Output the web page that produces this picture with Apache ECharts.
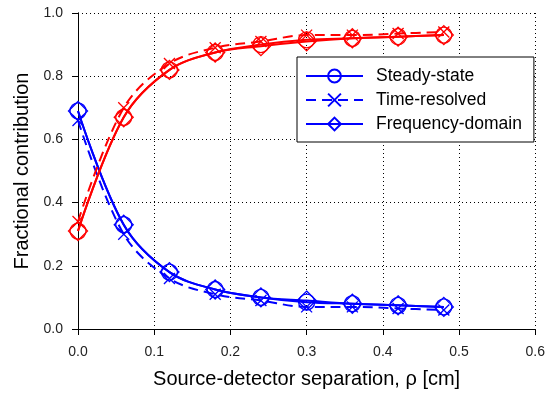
<!DOCTYPE html>
<html>
<head>
<meta charset="utf-8">
<script src="https://cdn.jsdelivr.net/npm/echarts@6/dist/echarts.min.js"></script>
<style>
html,body{margin:0;padding:0;background:#fff;}
#main{width:548px;height:394px;}
</style>
</head>
<body>
<div id="main"></div>
<script>
// 数据
var rho = [0, 0.06, 0.12, 0.18, 0.24, 0.30, 0.36, 0.42, 0.48];
var ssBlue = [0.69, 0.33, 0.18, 0.125, 0.10, 0.085, 0.08, 0.075, 0.07];
var trBlue = [0.66, 0.30, 0.16, 0.11, 0.09, 0.07, 0.07, 0.065, 0.06];
var fdBlue = [0.69, 0.33, 0.18, 0.125, 0.10, 0.09, 0.08, 0.075, 0.07];
var ssRed = [0.31, 0.67, 0.82, 0.875, 0.90, 0.915, 0.92, 0.925, 0.93];
var trRed = [0.34, 0.70, 0.84, 0.89, 0.91, 0.93, 0.93, 0.935, 0.94];
var fdRed = [0.31, 0.67, 0.82, 0.875, 0.895, 0.91, 0.92, 0.925, 0.93];

var crossPath = 'path://M0,0L10,10M10,0L0,10';

function pairs(ys){
    return rho.map(function(x, i){ return [x, ys[i]]; });
}

function mk(name, ys, color, symbol, size, dashed){
    return {
        name: name,
        type: 'line',
        data: pairs(ys),
        smooth: 0.35,
        color: color,
        symbol: symbol,
        symbolSize: size,
        showAllSymbol: true,
        lineStyle: {color: color, width: 2, type: dashed ? [10, 6] : 'solid'},
        itemStyle: {color: 'none', borderColor: color, borderWidth: 1.3},
        emphasis: {disabled: true},
        z: 3
    };
}

var myChart = echarts.init(document.getElementById('main'));
var axisLine = {show: true, lineStyle: {color: '#000', width: 1}};
var option = {
    animation: false,
    backgroundColor: '#fff',
    textStyle: {fontFamily: 'Liberation Sans, Arial, sans-serif'},
    grid: {left: 78, right: 11, top: 13, bottom: 61},
    legend: {
        data: ['Steady-state', 'Time-resolved', 'Frequency-domain'],
        orient: 'vertical',
        left: 297,
        top: 57,
        width: 238,
        padding: [10, 12, 9, 8],
        itemGap: 6,
        itemWidth: 57,
        itemHeight: 16,
        borderColor: '#000',
        borderWidth: 1,
        backgroundColor: '#fff',
        textStyle: {color: '#000', fontSize: 17.5, padding: [0, 0, 0, 8]},
        selectedMode: false
    },
    xAxis: [{
        type: 'value', min: 0, max: 0.6, interval: 0.1,
        name: 'Source-detector separation, ρ [cm]',
        nameLocation: 'middle', nameGap: 40,
        nameTextStyle: {color: '#000', fontSize: 20},
        axisLine: axisLine,
        axisTick: {show: true, length: 6, lineStyle: {color: '#000'}},
        axisLabel: {color: '#222', fontSize: 14, margin: 16, formatter: function(v){ return v.toFixed(1); }},
        splitLine: {show: true, lineStyle: {color: '#000', type: [1, 3], width: 1}}
    }, {
        type: 'value', min: 0, max: 0.6, interval: 0.1, position: 'top',
        axisLine: axisLine, axisTick: {show: false}, axisLabel: {show: false}, splitLine: {show: false}
    }],
    yAxis: [{
        type: 'value', min: 0, max: 1, interval: 0.2,
        name: 'Fractional contribution',
        nameLocation: 'middle', nameGap: 45,
        nameTextStyle: {color: '#000', fontSize: 20},
        axisLine: axisLine,
        axisTick: {show: true, length: 6, lineStyle: {color: '#000'}},
        axisLabel: {color: '#222', fontSize: 14, margin: 15, formatter: function(v){ return v.toFixed(1); }},
        splitLine: {show: true, lineStyle: {color: '#000', type: [1, 3], width: 1}}
    }, {
        type: 'value', min: 0, max: 1, interval: 0.2, position: 'right',
        axisLine: axisLine, axisTick: {show: false}, axisLabel: {show: false}, splitLine: {show: false}
    }],
    series: [
        mk('Steady-state', ssBlue, '#0000ff', 'circle', 16, false),
        mk('Time-resolved', trBlue, '#0000ff', crossPath, 11, true),
        mk('Frequency-domain', fdBlue, '#0000ff', 'diamond', 19, false),
        mk('ss-red', ssRed, '#ff0000', 'circle', 16, false),
        mk('tr-red', trRed, '#ff0000', crossPath, 11, true),
        mk('fd-red', fdRed, '#ff0000', 'diamond', 19, false)
    ]
};
myChart.setOption(option);
</script>
</body>
</html>
